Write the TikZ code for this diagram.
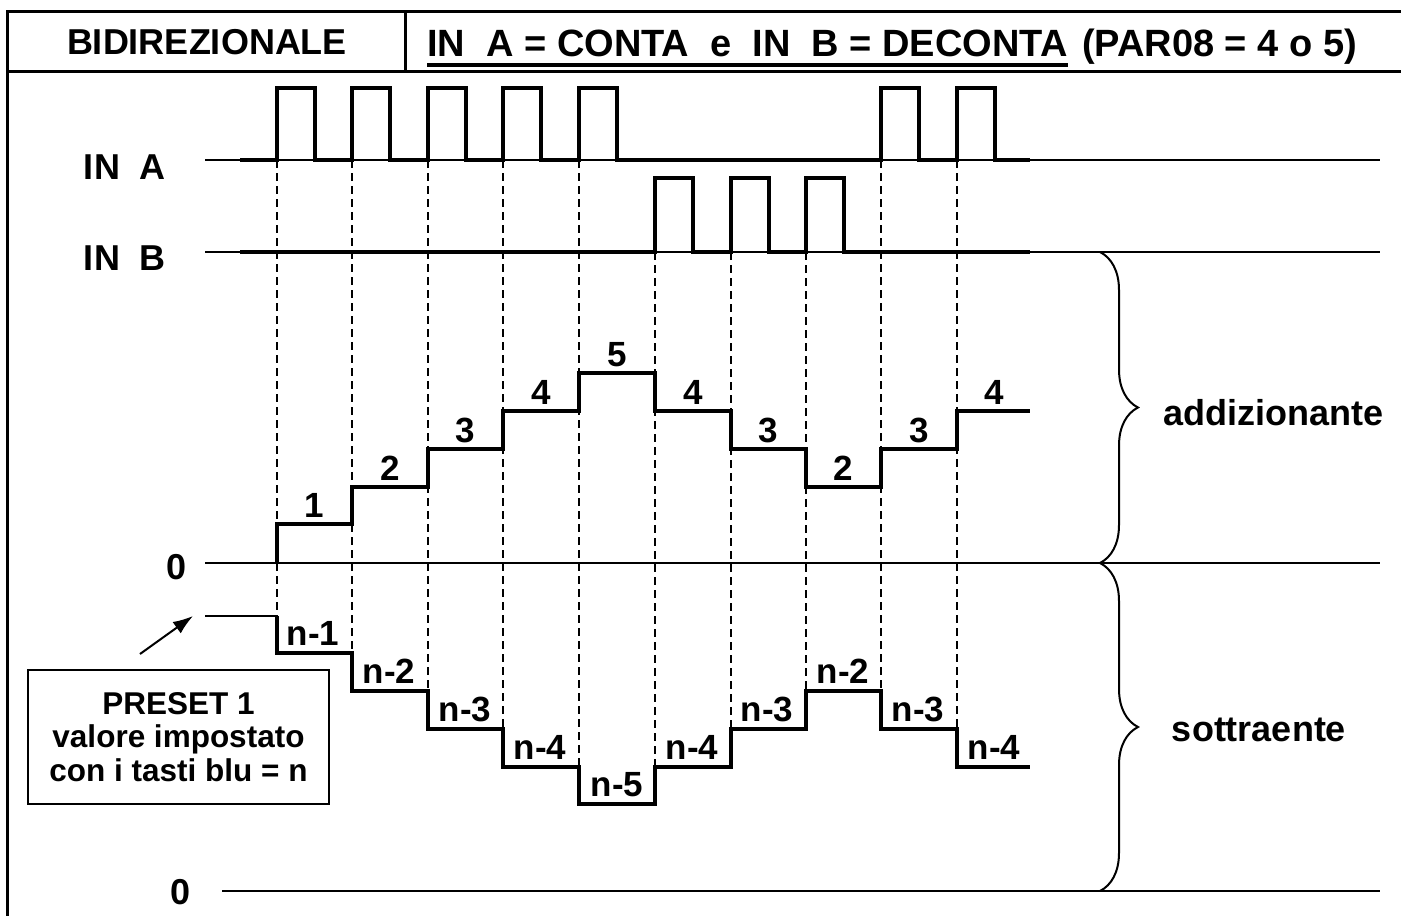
\documentclass[tikz,border=0pt]{standalone}
\usepackage{fontspec}
\setmainfont{Liberation Sans}
\usetikzlibrary{arrows.meta,decorations.pathreplacing}

\begin{document}
\begin{tikzpicture}[x=1pt,y=-1pt,
  txt/.style={inner sep=0pt,font=\bfseries\fontsize{36}{36}\selectfont},
  hdr/.style={inner sep=0pt,anchor=base west,font=\bfseries\fontsize{38}{38}\selectfont},
  stp/.style={inner sep=0pt,anchor=base,font=\bfseries\fontsize{35}{35}\selectfont},
  sig/.style={line width=3.8pt},
  base/.style={line width=2pt},
  grid/.style={line width=1.5pt,dash pattern=on 8pt off 5pt},
  frm/.style={line width=3pt}]
\useasboundingbox (0,0) rectangle (1401,916);

% Frame
\draw[frm] (7,916) -- (7,11) -- (1401,11);
\draw[frm] (7,71) -- (1401,71);
\draw[frm] (405,11) -- (405,71);

% Title
\node[txt] (bid) at (207,42) {BIDIREZIONALE};
\node[hdr] (ttl) at (427,56) {IN\ \ A = CONTA\ \ e\ \ IN\ \ B = DECONTA};
\node[hdr] (par) at ([xshift=14pt]ttl.base east) {(PAR08 = 4 o 5)};
\draw[line width=3.5pt] ([yshift=-9pt]ttl.base west) -- ([yshift=-9pt]ttl.base east);

% Labels
\node[txt] (ina) at (125,167) {IN\ \ A};
\node[txt] (inb) at (125,258) {IN\ \ B};
\node[txt] (zup) at (177,567) {0};
\node[txt] (zdn) at (181,892) {0};

% Base lines
\draw[base] (205,160) -- (1380,160);
\draw[base] (205,252) -- (1380,252);
\draw[base] (205,563) -- (1380,563);
\draw[base] (222,891) -- (1380,891);
\draw[base] (205,616) -- (277,616);

% Dashed lines
\draw[grid] (277,160) -- (277,616);
\draw[grid] (352,160) -- (352,653);
\draw[grid] (428,160) -- (428,691);
\draw[grid] (503,160) -- (503,729);
\draw[grid] (579,160) -- (579,767);
\draw[grid] (655,252) -- (655,767);
\draw[grid] (731,252) -- (731,729);
\draw[grid] (806,252) -- (806,691);
\draw[grid] (881,160) -- (881,691);
\draw[grid] (957,160) -- (957,729);

% IN A
\draw[sig] (240,160) -- (277,160) -- (277,88) -- (315,88) -- (315,160) -- (352,160) -- (352,88) -- (390,88) -- (390,160)
  -- (428,160) -- (428,88) -- (466,88) -- (466,160) -- (503,160) -- (503,88) -- (541,88) -- (541,160)
  -- (579,160) -- (579,88) -- (617,88) -- (617,160) -- (881,160) -- (881,88) -- (919,88) -- (919,160)
  -- (957,160) -- (957,88) -- (995,88) -- (995,160) -- (1030,160);

% IN B
\draw[sig] (240,252) -- (655,252) -- (655,178) -- (693,178) -- (693,252) -- (731,252) -- (731,178) -- (769,178) -- (769,252)
  -- (806,252) -- (806,178) -- (844,178) -- (844,252) -- (1030,252);

% Addizionante
\draw[sig] (277,563) -- (277,524) -- (352,524) -- (352,487) -- (428,487) -- (428,449) -- (503,449) -- (503,411)
  -- (579,411) -- (579,373) -- (655,373) -- (655,411) -- (731,411) -- (731,449) -- (806,449) -- (806,487)
  -- (881,487) -- (881,449) -- (957,449) -- (957,411) -- (1030,411);
\node[stp] (a1) at (314,517) {1};
\node[stp] (a2) at (390,480) {2};
\node[stp] (a3) at (465,442) {3};
\node[stp] (a4) at (541,404) {4};
\node[stp] (a5) at (617,366) {5};
\node[stp] (a6) at (693,404) {4};
\node[stp] (a7) at (768,442) {3};
\node[stp] (a8) at (843,480) {2};
\node[stp] (a9) at (919,442) {3};
\node[stp] (a10) at (994,404) {4};

% Sottraente
\draw[sig] (277,616) -- (277,653) -- (352,653) -- (352,691) -- (428,691) -- (428,729) -- (503,729) -- (503,767)
  -- (579,767) -- (579,804) -- (655,804) -- (655,767) -- (731,767) -- (731,729) -- (806,729) -- (806,691)
  -- (881,691) -- (881,729) -- (957,729) -- (957,767) -- (1030,767);
\node[stp] (s1) at (313,645) {n-1};
\node[stp] (s2) at (389,683) {n-2};
\node[stp] (s3) at (465,721) {n-3};
\node[stp] (s4) at (540,759) {n-4};
\node[stp] (s5) at (617,796) {n-5};
\node[stp] (s6) at (692,759) {n-4};
\node[stp] (s7) at (767,721) {n-3};
\node[stp] (s8) at (843,683) {n-2};
\node[stp] (s9) at (918,721) {n-3};
\node[stp] (s10) at (994,759) {n-4};

% Braces
\draw[base,decorate,decoration={brace,amplitude=38pt}] (1100,252) -- (1100,563);
\draw[base,decorate,decoration={brace,amplitude=38pt}] (1100,563) -- (1100,891);
\node[txt] (add) at (1273,413) {addizionante};
\node[txt] (sot) at (1259,730) {sottraente};

% Preset
\node[draw,line width=2.5pt,minimum width=301pt,minimum height=134pt,align=center,
  font=\bfseries\fontsize{31.5}{33.5}\selectfont] (pre) at (178.5,737) {PRESET 1\\valore impostato\\con i tasti blu = n};
\coordinate (pa) at (140,654);
\coordinate (pb) at (193,616);
\draw[line width=2pt,-{Latex[length=20pt,width=14pt]}] (pa) -- (pb);
\end{tikzpicture}
\end{document}
